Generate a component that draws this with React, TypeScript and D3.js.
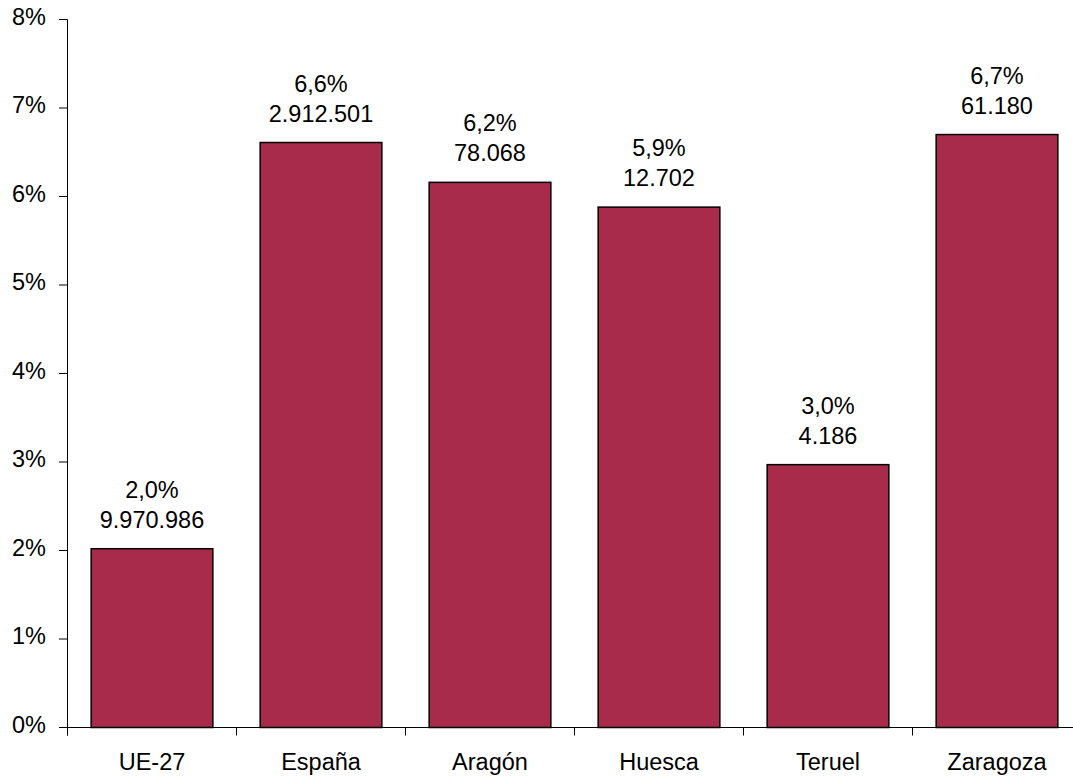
import * as d3 from "d3";
import { useEffect, useRef } from "react";

// categories and values
const categories = ["UE-27", "España", "Aragón", "Huesca", "Teruel", "Zaragoza"];
const rates = [2.02, 6.61, 6.16, 5.88, 2.97, 6.7];
const rateLabels = ["2,0%", "6,6%", "6,2%", "5,9%", "3,0%", "6,7%"];
const countLabels = ["9.970.986", "2.912.501", "78.068", "12.702", "4.186", "61.180"];
const yTicks = [0, 1, 2, 3, 4, 5, 6, 7, 8];

const width = 1073;
const height = 778;
const margin = { top: 19.5, right: -8.5, bottom: 50.5, left: 67.5 };

const App = () => {
	const svgRef = useRef<SVGSVGElement | null>(null);

	useEffect(() => {
		const svg = d3.select(svgRef.current);
		svg.selectAll("*").remove();

		const font = "'Liberation Sans', Arial, sans-serif";
		const fontSize = 23.5;

		const yScale = d3
			.scaleLinear()
			.domain([0, 8])
			.range([height - margin.bottom, margin.top]);

		//band scale runs a bit past the right edge, like the original
		const xScale = d3
			.scaleBand()
			.domain(categories)
			.range([margin.left, width - margin.right])
			.paddingInner(0.28)
			.paddingOuter(0.14);

		const step = xScale.step();
		const start = margin.left;
		const y0 = yScale(0);

		//bars
		svg
			.append("g")
			.selectAll("rect")
			.data(categories)
			.enter()
			.append("rect")
			.attr("x", (d) => xScale(d)!)
			.attr("width", xScale.bandwidth())
			.attr("y", (_, i) => yScale(rates[i]))
			.attr("height", (_, i) => y0 - yScale(rates[i]))
			.attr("fill", "#A92B4B")
			.attr("stroke", "#000")
			.attr("stroke-width", 1.5);

		//y axis
		const yAxisG = svg.append("g");
		yAxisG
			.append("line")
			.attr("x1", start)
			.attr("x2", start)
			.attr("y1", yScale(8))
			.attr("y2", y0 + 8)
			.attr("stroke", "#000")
			.attr("stroke-width", 1);
		yAxisG
			.selectAll("line.tick")
			.data(yTicks)
			.enter()
			.append("line")
			.attr("class", "tick")
			.attr("x1", start - 8.5)
			.attr("x2", start)
			.attr("y1", (d) => yScale(d))
			.attr("y2", (d) => yScale(d))
			.attr("stroke", "#000")
			.attr("stroke-width", 1);
		yAxisG
			.selectAll("text")
			.data(yTicks)
			.enter()
			.append("text")
			.attr("x", start - 21.5)
			.attr("y", (d) => yScale(d) + 5)
			.attr("text-anchor", "end")
			.attr("font-family", font)
			.attr("font-size", fontSize)
			.attr("fill", "#000")
			.text((d) => `${d}%`);

		//x axis
		const xAxisG = svg.append("g");
		xAxisG
			.append("line")
			.attr("x1", start)
			.attr("x2", width)
			.attr("y1", y0)
			.attr("y2", y0)
			.attr("stroke", "#000")
			.attr("stroke-width", 1);
		xAxisG
			.selectAll("line.tick")
			.data(d3.range(categories.length + 1))
			.enter()
			.append("line")
			.attr("class", "tick")
			.attr("x1", (i) => start + i * step)
			.attr("x2", (i) => start + i * step)
			.attr("y1", y0)
			.attr("y2", y0 + 8)
			.attr("stroke", "#000")
			.attr("stroke-width", 1);
		xAxisG
			.selectAll("text")
			.data(categories)
			.enter()
			.append("text")
			.attr("x", (d) => xScale(d)! + xScale.bandwidth() / 2)
			.attr("y", 770)
			.attr("text-anchor", "middle")
			.attr("font-family", font)
			.attr("font-size", fontSize)
			.attr("fill", "#000")
			.text((d) => d);

		//data labels over the bars
		const labels = svg.append("g");
		categories.forEach((c, i) => {
			const cx = xScale(c)! + xScale.bandwidth() / 2;
			const top = yScale(rates[i]);
			labels
				.append("text")
				.attr("x", cx)
				.attr("y", top - 51)
				.attr("text-anchor", "middle")
				.attr("font-family", font)
				.attr("font-size", fontSize)
				.attr("fill", "#000")
				.text(rateLabels[i]);
			labels
				.append("text")
				.attr("x", cx)
				.attr("y", top - 21)
				.attr("text-anchor", "middle")
				.attr("font-family", font)
				.attr("font-size", fontSize)
				.attr("fill", "#000")
				.text(countLabels[i]);
		});
	}, []);

	return (
		<svg
			ref={svgRef}
			width={width}
			height={height}
			style={{ position: "absolute", left: 0, top: 0, background: "#fff" }}
		/>
	);
};

export default App;
